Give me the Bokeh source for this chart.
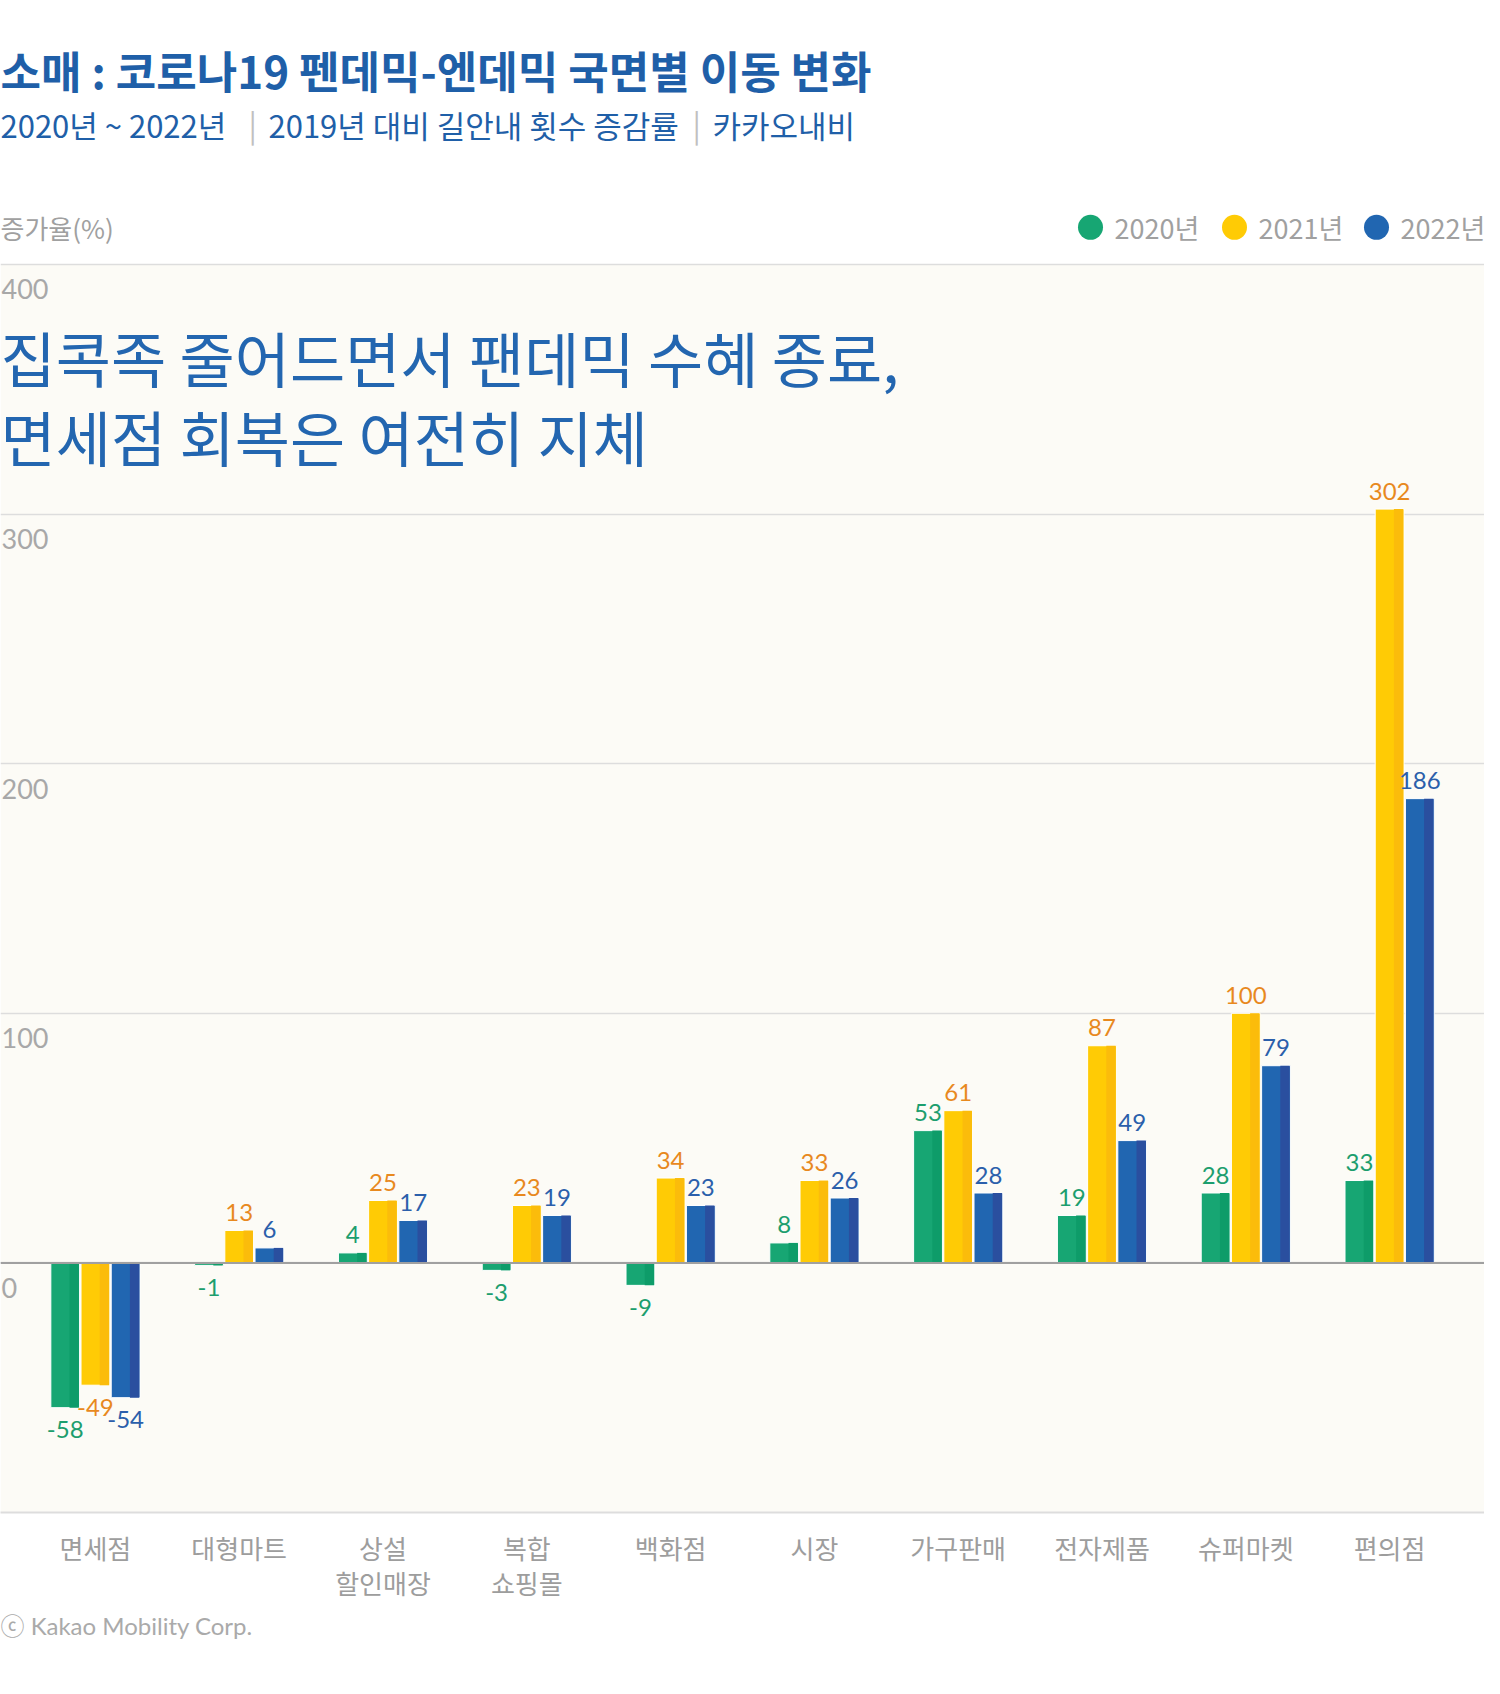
from bokeh.plotting import figure
from bokeh.models import ColumnDataSource, FactorRange, Range1d, FixedTicker, Span, BoxAnnotation, Label, Title
from bokeh.transform import dodge
from bokeh.core.properties import value
from bokeh.embed import file_html
from bokeh.resources import INLINE

# ---------------- data ----------------
categories = ["면세점", "대형마트", "상설\n할인매장", "복합\n쇼핑몰", "백화점",
              "시장", "가구판매", "전자제품", "슈퍼마켓", "편의점"]
years = ["2020년", "2021년", "2022년"]
v2020 = [-58, -1, 4, -3, -9, 8, 53, 19, 28, 33]
v2021 = [-49, 13, 25, 23, 34, 33, 61, 87, 100, 302]
v2022 = [-54, 6, 17, 19, 23, 26, 28, 49, 79, 186]
y_ticks = [0, 100, 200, 300, 400]
y_tick_labels = ["0", "100", "200", "300", "400"]

title_text = "소매 : 코로나19 펜데믹-엔데믹 국면별 이동 변화"
subtitle_parts = ["2020년 ~ 2022년", "2019년 대비 길안내 횟수 증감률", "카카오내비"]
headline = ["집콕족 줄어드면서 팬데믹 수혜 종료,", "면세점 회복은 여전히 지체"]
y_axis_title = "증가율(%)"
footer_text = "ⓒ Kakao Mobility Corp."

# ---------------- style ----------------
KR = "Noto Sans CJK KR"
NUM = "Lato"
W, H = 1484, 1686
TOP = 8
FRAME_H = 1504
PAD = 0.16
Y0, Y1 = -100, 502.56
PPU = FRAME_H / (Y1 - Y0)          # pixels per y unit
XPPU = W / (len(categories) + 2 * PAD)

light = ["#17a673", "#ffcb05", "#2166b1"]
dark = ["#0e9c69", "#fbbc0b", "#2a4f9f"]
label_colors = ["#1c9e6e", "#e8891e", "#2b5fab"]
offsets = [-0.21, 0.0, 0.21]
title_color = "#1f5fa8"

x_range = FactorRange(factors=categories, range_padding=PAD, range_padding_units="absolute")
p = figure(width=W, height=H, x_range=x_range, y_range=Range1d(Y0, Y1),
           output_backend="svg", toolbar_location=None,
           min_border_left=0, min_border_right=0, min_border_top=TOP,
           min_border_bottom=H - FRAME_H - TOP,
           background_fill_color="white", border_fill_color="white",
           outline_line_color=None)

p.yaxis.visible = False
p.xgrid.visible = False
p.ygrid.ticker = FixedTicker(ticks=y_ticks)
p.ygrid.grid_line_color = "#dddddd"
p.ygrid.grid_line_width = 1.6

p.add_layout(BoxAnnotation(bottom=-100, top=400, fill_color="#fcfbf6", fill_alpha=1,
                           line_color=None, level="image"))

ax = p.xaxis[0]
ax.axis_line_color = "#dddddd"
ax.axis_line_width = 2
ax.major_tick_line_color = None
ax.minor_tick_line_color = None
ax.major_label_text_font = KR
ax.major_label_text_font_size = "26px"
ax.major_label_text_color = "#9d9d9d"
ax.major_label_standoff = 10
ax.major_label_text_line_height = 0.95

# ---------------- bars ----------------
series = [v2020, v2021, v2022]
for vals, off, lc, dc, tc in zip(series, offsets, light, dark, label_colors):
    src = ColumnDataSource(dict(
        cat=categories, val=vals,
        txt=[str(v) for v in vals],
        ly=[v + 18 / PPU if v >= 0 else v - 22 / PPU for v in vals],
    ))
    p.vbar(x=dodge("cat", off, range=p.x_range), top="val", bottom=0, width=0.2,
           source=src, fill_color=lc, line_color="white", line_width=1)
    p.vbar(x=dodge("cat", off + 0.0625, range=p.x_range), top="val", bottom=0, width=0.065,
           source=src, fill_color=dc, line_color=None)
    p.text(x=dodge("cat", off, range=p.x_range), y="ly", text="txt", source=src,
           text_color=tc, text_font=value(NUM), text_font_size="24px",
           text_align="center", text_baseline="middle")

p.add_layout(Span(location=0, dimension="width", line_color="#a0a0a0", line_width=2))

# ---------------- tick labels ----------------
for t, lab in zip(y_ticks, y_tick_labels):
    p.add_layout(Label(x=1, y=t - 25 / PPU, x_units="screen", text=lab,
                       text_font=NUM, text_font_size="27px", text_color="#a8a8a8",
                       text_baseline="middle", text_align="left"))

# ---------------- header texts ----------------
def add_text(text, x, y, size, color, font=KR, style="normal"):
    p.add_layout(Label(x=x, y=y, x_units="screen", text=text, text_font=font,
                       text_font_size=f"{size}px", text_color=color, text_font_style=style,
                       text_baseline="middle", text_align="left"))

add_text(title_text, 0, 477.8, 44, title_color, style="bold")
sub_x = [0, 268, 712]
for txt, sx in zip(subtitle_parts, sub_x):
    add_text(txt, sx, 456.1, 31, title_color)
for sx in [248, 692]:
    add_text("|", sx, 456.6, 31, "#c0c0c0")

add_text(y_axis_title, 0, 414.9, 26, "#a0a0a0")
add_text(headline[0], 0, 363.2, 60, "#2366b0")
add_text(headline[1], 0, 331.5, 60, "#2366b0")

# legend
leg_px = [1090, 1234, 1376]
leg_x = [-PAD + px / XPPU for px in leg_px]
p.scatter(x=leg_x, y=[414.9] * 3, size=25, color=light, line_color=None)
for px, yr in zip(leg_px, years):
    add_text(yr, px + 24, 414.9, 27, "#a0a0a0")

# footer
p.add_layout(Title(text=footer_text, align="left", text_font="Lato, 'Noto Sans CJK KR'",
                   text_font_size="24px", text_color="#aaaaaa", text_font_style="normal",
                   standoff=11), "below")

open("out.html", "w").write(file_html(p, INLINE))
